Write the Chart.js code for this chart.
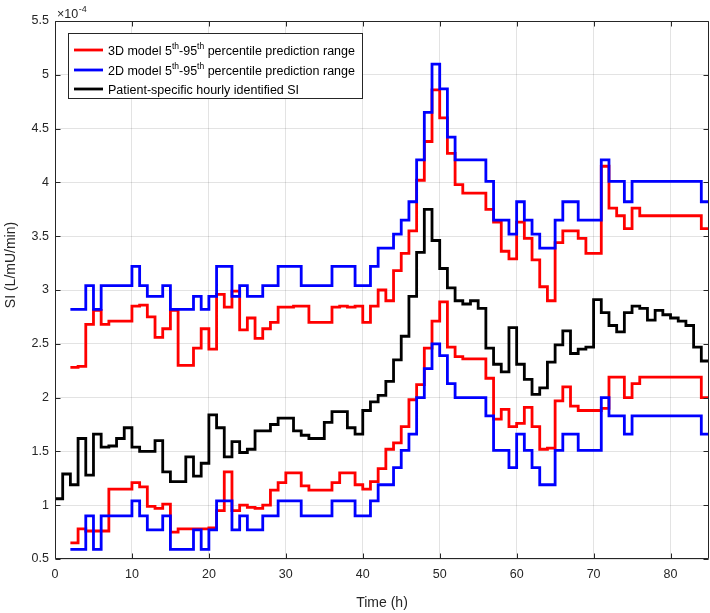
<!DOCTYPE html>
<html>
<head>
<meta charset="utf-8">
<title>SI prediction ranges</title>
<script src="https://cdn.jsdelivr.net/npm/chart.js@4.4.1/dist/chart.umd.min.js"></script>
<style>
    html, body { margin: 0; padding: 0; background: #ffffff; }
    canvas { display: block; }
</style>
</head>
<body>
<canvas id="siChart" width="710" height="613"></canvas>
<script>
// Hourly time stamps (h); the last one only closes the final stair step
const HOURS = [
    0, 1, 2, 3, 4, 5, 6, 7, 8, 9,
    10, 11, 12, 13, 14, 15, 16, 17, 18, 19,
    20, 21, 22, 23, 24, 25, 26, 27, 28, 29,
    30, 31, 32, 33, 34, 35, 36, 37, 38, 39,
    40, 41, 42, 43, 44, 45, 46, 47, 48, 49,
    50, 51, 52, 53, 54, 55, 56, 57, 58, 59,
    60, 61, 62, 63, 64, 65, 66, 67, 68, 69,
    70, 71, 72, 73, 74, 75, 76, 77, 78, 79,
    80, 81, 82, 83, 84, 85
];

// Patient-specific hourly identified SI (x 1e-4 L/mU/min)
const SI_IDENTIFIED = [
    1.06, 1.29, 1.19, 1.62, 1.28, 1.66, 1.54, 1.55, 1.62, 1.72,
    1.54, 1.50, 1.50, 1.60, 1.31, 1.22, 1.22, 1.45, 1.27, 1.39,
    1.84, 1.72, 1.45, 1.59, 1.49, 1.52, 1.69, 1.69, 1.75, 1.81,
    1.81, 1.69, 1.65, 1.62, 1.62, 1.77, 1.87, 1.87, 1.72, 1.66,
    1.88, 1.96, 2.02, 2.15, 2.35, 2.57, 2.94, 3.35, 3.75, 3.46,
    3.20, 3.02, 2.90, 2.87, 2.90, 2.83, 2.46, 2.31, 2.24, 2.65,
    2.31, 2.17, 2.03, 2.09, 2.33, 2.49, 2.62, 2.41, 2.45, 2.47,
    2.91, 2.79, 2.67, 2.61, 2.79, 2.85, 2.83, 2.72, 2.81, 2.77,
    2.74, 2.71, 2.67, 2.47, 2.34, 2.34
];

// 3D model 95th / 5th percentile
const SI_3D_HIGH = [
    null, null, 2.28, 2.29, 2.68, 2.81, 2.68, 2.71, 2.71, 2.71,
    2.85, 2.86, 2.75, 2.56, 2.64, 2.81, 2.30, 2.30, 2.46, 2.64,
    2.45, 2.96, 2.84, 2.99, 2.63, 2.74, 2.55, 2.64, 2.70, 2.84,
    2.84, 2.85, 2.85, 2.70, 2.70, 2.70, 2.84, 2.85, 2.84, 2.85,
    2.70, 2.85, 3.00, 2.90, 3.18, 3.34, 3.55, 4.02, 4.38, 4.86,
    4.60, 4.27, 3.98, 3.90, 3.90, 3.90, 3.75, 3.63, 3.36, 3.29,
    3.63, 3.48, 3.28, 3.03, 2.90, 3.44, 3.55, 3.55, 3.48, 3.34,
    3.34, 4.15, 3.76, 3.69, 3.57, 3.76, 3.69, 3.69, 3.69, 3.69,
    3.69, 3.69, 3.69, 3.69, 3.57, 3.57
];
const SI_3D_LOW = [
    null, null, 0.65, 0.78, 0.76, 0.76, 0.76, 1.15, 1.15, 1.15,
    1.21, 1.17, 0.99, 0.97, 1.01, 0.75, 0.78, 0.78, 0.78, 0.78,
    0.79, 0.95, 1.31, 0.95, 1.00, 0.98, 0.97, 1.00, 1.14, 1.21,
    1.30, 1.30, 1.18, 1.14, 1.14, 1.14, 1.21, 1.30, 1.30, 1.19,
    1.15, 1.22, 1.34, 1.52, 1.58, 1.73, 1.98, 2.12, 2.46, 2.71,
    2.89, 2.47, 2.38, 2.36, 2.36, 2.36, 2.18, 1.80, 1.89, 1.73,
    1.76, 1.91, 1.73, 1.52, 1.53, 1.97, 2.10, 1.92, 1.88, 1.88,
    1.88, 1.90, 2.19, 2.19, 2.00, 2.13, 2.19, 2.19, 2.19, 2.19,
    2.19, 2.19, 2.19, 2.19, 2.00, 2.00
];

// 2D model 95th / 5th percentile
const SI_2D_HIGH = [
    null, null, 2.82, 2.82, 3.04, 2.82, 3.04, 3.04, 3.04, 3.04,
    3.22, 3.04, 2.94, 2.94, 3.04, 2.82, 2.82, 2.82, 2.94, 2.82,
    2.94, 3.22, 3.22, 2.94, 3.04, 2.94, 2.94, 3.04, 3.04, 3.22,
    3.22, 3.22, 3.04, 3.04, 3.04, 3.04, 3.22, 3.22, 3.22, 3.04,
    3.04, 3.22, 3.39, 3.39, 3.52, 3.65, 3.82, 4.21, 4.65, 5.10,
    4.87, 4.42, 4.21, 4.21, 4.21, 4.21, 4.01, 3.65, 3.65, 3.52,
    3.82, 3.65, 3.52, 3.39, 3.39, 3.65, 3.82, 3.82, 3.65, 3.65,
    3.65, 4.21, 4.01, 4.01, 3.82, 4.01, 4.01, 4.01, 4.01, 4.01,
    4.01, 4.01, 4.01, 4.01, 3.82, 3.82
];
const SI_2D_LOW = [
    null, null, 0.59, 0.59, 0.90, 0.59, 0.90, 0.90, 0.90, 0.90,
    1.04, 0.90, 0.77, 0.77, 0.90, 0.59, 0.59, 0.59, 0.77, 0.59,
    0.77, 1.04, 1.04, 0.77, 0.90, 0.77, 0.77, 0.90, 0.90, 1.04,
    1.04, 1.04, 0.90, 0.90, 0.90, 0.90, 1.04, 1.04, 1.04, 0.90,
    0.90, 1.04, 1.19, 1.19, 1.35, 1.51, 1.66, 2.00, 2.27, 2.50,
    2.39, 2.13, 2.00, 2.00, 2.00, 2.00, 1.83, 1.51, 1.51, 1.35,
    1.66, 1.51, 1.35, 1.19, 1.19, 1.51, 1.66, 1.66, 1.51, 1.51,
    1.51, 2.00, 1.83, 1.83, 1.66, 1.83, 1.83, 1.83, 1.83, 1.83,
    1.83, 1.83, 1.83, 1.83, 1.66, 1.66
];

const X_TICKS = [0, 10, 20, 30, 40, 50, 60, 70, 80];
const Y_TICKS = [0.5, 1, 1.5, 2, 2.5, 3, 3.5, 4, 4.5, 5, 5.5];

// Legend rows: [text, isSuperscript] runs
const LEGEND_ROWS = [
    { color: '#ff0000', runs: [['3D model 5', false], ['th', true], ['-95', false], ['th', true], [' percentile prediction range', false]] },
    { color: '#0000ff', runs: [['2D model 5', false], ['th', true], ['-95', false], ['th', true], [' percentile prediction range', false]] },
    { color: '#000000', runs: [['Patient-specific hourly identified SI', false]] }
];

const AXIS_COLOR = '#262626';
const GRID_COLOR = 'rgba(38, 38, 38, 0.13)';
const FONT_FAMILY = '"Liberation Sans", Arial, Helvetica, sans-serif';
const LINE_WIDTH = 2.8;
const TICK_LEN = 5;

/**
 * Pairs the hour stamps with one series, skipping hours without a value
 */
const toPoints = (values) => HOURS.map((h, i) => ({ x: h, y: values[i] }));

const stairs = (label, values, color) => ({
    label,
    data: toPoints(values),
    borderColor: color,
    backgroundColor: color,
    borderWidth: LINE_WIDTH,
    stepped: true,
    pointRadius: 0,
    fill: false,
    spanGaps: false
});

/**
 * Draws the MATLAB-style frame: full box, inward ticks, legend, exponent and y label
 */
const matlabFrame = {
    id: 'matlabFrame',
    afterDatasetsDraw(chart) {
        const { ctx, chartArea: a, scales: { x, y } } = chart;
        const left = Math.round(a.left) + 0.5;
        const right = Math.round(a.right) - 0.5;
        const top = Math.round(a.top) + 0.5;
        const bottom = Math.round(a.bottom) - 0.5;

        ctx.save();
        ctx.strokeStyle = AXIS_COLOR;
        ctx.lineWidth = 1;
        ctx.beginPath();
        ctx.rect(left, top, right - left, bottom - top);

        // Inward tick marks on all four sides
        X_TICKS.forEach(v => {
            const px = Math.round(x.getPixelForValue(v)) + 0.5;
            ctx.moveTo(px, bottom); ctx.lineTo(px, bottom - TICK_LEN);
            ctx.moveTo(px, top); ctx.lineTo(px, top + TICK_LEN);
        });
        Y_TICKS.forEach(v => {
            const py = Math.round(y.getPixelForValue(v)) + 0.5;
            ctx.moveTo(left, py); ctx.lineTo(left + TICK_LEN, py);
            ctx.moveTo(right, py); ctx.lineTo(right - TICK_LEN, py);
        });
        ctx.stroke();

        // Legend box
        const box = { x: 68.5, y: 33.5, w: 294, h: 65 };
        ctx.fillStyle = '#ffffff';
        ctx.fillRect(box.x, box.y, box.w, box.h);
        ctx.strokeRect(box.x, box.y, box.w, box.h);

        const rowY = [50, 70, 89];
        ctx.textBaseline = 'alphabetic';
        LEGEND_ROWS.forEach((row, i) => {
            const cy = rowY[i];
            ctx.strokeStyle = row.color;
            ctx.lineWidth = LINE_WIDTH;
            ctx.beginPath();
            ctx.moveTo(74, cy);
            ctx.lineTo(103, cy);
            ctx.stroke();

            let tx = 108;
            ctx.fillStyle = '#000000';
            row.runs.forEach(([text, sup]) => {
                ctx.font = (sup ? '8.5px ' : '12.5px ') + FONT_FAMILY;
                ctx.fillText(text, tx, sup ? cy - 1 : cy + 4.5);
                tx += ctx.measureText(text).width;
            });
        });

        // Axis exponent "x10^-4"
        ctx.fillStyle = AXIS_COLOR;
        ctx.font = '12.5px ' + FONT_FAMILY;
        ctx.fillText('\u00d710', 57, 17.5);
        const baseW = ctx.measureText('\u00d710').width;
        ctx.font = '9px ' + FONT_FAMILY;
        ctx.fillText('-4', 57 + baseW + 0.5, 12);

        // Y axis title
        ctx.translate(11, 265);
        ctx.rotate(-Math.PI / 2);
        ctx.font = '14px ' + FONT_FAMILY;
        ctx.textAlign = 'center';
        ctx.textBaseline = 'middle';
        ctx.fillText('SI (L/mU/min)', 0, 0);
        ctx.restore();
    }
};

const buildChart = () => {
    Chart.defaults.font.family = FONT_FAMILY;
    Chart.defaults.color = AXIS_COLOR;

    const ctx = document.getElementById('siChart').getContext('2d');
    return new Chart(ctx, {
        type: 'line',
        data: {
            // first dataset is drawn on top
            datasets: [
                stairs('Patient-specific hourly identified SI', SI_IDENTIFIED, '#000000'),
                stairs('2D model 95th percentile', SI_2D_HIGH, '#0000ff'),
                stairs('2D model 5th percentile', SI_2D_LOW, '#0000ff'),
                stairs('3D model 95th percentile', SI_3D_HIGH, '#ff0000'),
                stairs('3D model 5th percentile', SI_3D_LOW, '#ff0000')
            ]
        },
        options: {
            responsive: false,
            animation: false,
            devicePixelRatio: 1,
            layout: { padding: { top: 21, right: 1, left: 0, bottom: 0 } },
            plugins: {
                legend: { display: false },
                tooltip: { enabled: false }
            },
            scales: {
                x: {
                    type: 'linear',
                    min: 0,
                    max: 85,
                    afterBuildTicks: scale => { scale.ticks = X_TICKS.map(value => ({ value })); },
                    afterFit: scale => { scale.height = 54; },
                    grid: { color: GRID_COLOR, drawTicks: false },
                    border: { display: false },
                    ticks: {
                        padding: 8,
                        maxRotation: 0,
                        autoSkip: false,
                        color: AXIS_COLOR,
                        font: { size: 12.5 },
                        callback: v => String(v)
                    },
                    title: {
                        display: true,
                        text: 'Time (h)',
                        color: AXIS_COLOR,
                        font: { size: 14 },
                        padding: { top: 0, bottom: 1 }
                    }
                },
                y: {
                    type: 'linear',
                    min: 0.5,
                    max: 5.5,
                    afterBuildTicks: scale => { scale.ticks = Y_TICKS.map(value => ({ value })); },
                    afterFit: scale => { scale.width = 55; },
                    grid: { color: GRID_COLOR, drawTicks: false },
                    border: { display: false },
                    ticks: {
                        padding: 6,
                        color: AXIS_COLOR,
                        font: { size: 12.5 },
                        callback: v => String(Number(v.toFixed(1)))
                    }
                }
            }
        },
        plugins: [matlabFrame]
    });
};

buildChart();
</script>
</body>
</html>
